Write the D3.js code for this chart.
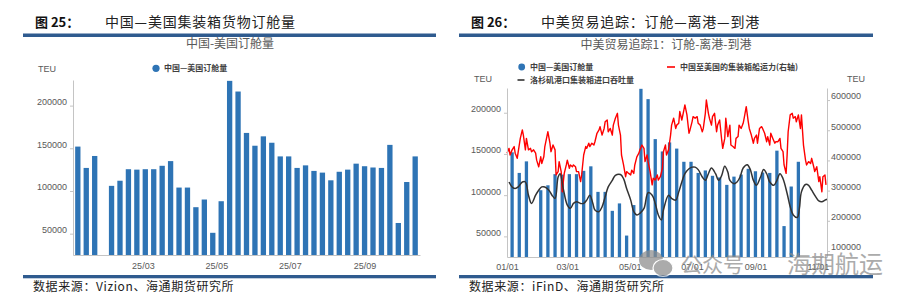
<!DOCTYPE html>
<html>
<head>
<meta charset="utf-8">
<script src="https://cdn.jsdelivr.net/npm/d3@7"></script>
<style>
body { margin: 0; background: #fff; }
svg { display: block; }
</style>
</head>
<body>
<div id="chart"></div>
<script>
// weekly China -> US bookings (TEU), week start dates
var weeks = ["2025-01-06","2025-01-13","2025-01-20","2025-01-27","2025-02-03","2025-02-10","2025-02-17","2025-02-24",
  "2025-03-03","2025-03-10","2025-03-17","2025-03-24","2025-03-31","2025-04-07","2025-04-14","2025-04-21","2025-04-28",
  "2025-05-05","2025-05-12","2025-05-19","2025-05-26","2025-06-02","2025-06-09","2025-06-16","2025-06-23","2025-06-30",
  "2025-07-07","2025-07-14","2025-07-21","2025-07-28","2025-08-04","2025-08-11","2025-08-18","2025-08-25",
  "2025-09-01","2025-09-08","2025-09-15","2025-09-22","2025-09-29","2025-10-06","2025-10-13"];
var bookings = [152000,127000,141000,null,106000,112000,125500,125000,125500,125500,129500,135000,104000,104000,
  81000,90000,51000,88000,229000,216500,168000,153000,164000,156500,140500,140500,127000,130000,123500,121500,
  112500,122500,125000,132000,129000,127500,127000,154000,62500,110500,140500];

// China -> US container ship capacity (right axis), 2025
var capDates = ["01-01","01-03","01-04","01-06","01-08","01-09","01-11","01-12","01-14","01-16","01-17","01-19","01-20",
  "01-22","01-24","01-25","01-27","01-29","01-30","02-01","02-03","02-04","02-06","02-07","02-09","02-10","02-12","02-13",
  "02-15","02-17","02-18","02-20","02-21","02-23","02-24","02-26","02-28","03-01","03-03","03-04","03-06","03-07","03-09",
  "03-10","03-12","03-14","03-15","03-17","03-19","03-20","03-22","03-23","03-25","03-27","03-28","03-30","04-01","04-02",
  "04-04","04-06","04-07","04-09","04-10","04-12","04-14","04-15","04-17","04-19","04-20","04-22","04-23","04-25","04-27",
  "04-28","04-30","05-02","05-03","05-05","05-06","05-08","05-10","05-11","05-13","05-15","05-16","05-18","05-19","05-21",
  "05-23","05-24","05-26","05-28","05-29","05-31","06-02","06-03","06-05","06-06","06-08","06-10","06-11","06-13","06-15",
  "06-16","06-18","06-19","06-21","06-23","06-24","06-26","06-28","06-29","07-01","07-02","07-04","07-06","07-07","07-09",
  "07-11","07-12","07-14","07-15","07-17","07-18","07-20","07-21","07-23","07-25","07-26","07-28","07-30","07-31","08-02",
  "08-03","08-05","08-07","08-08","08-10","08-12","08-13","08-15","08-16","08-18","08-20","08-21","08-23","08-25","08-26",
  "08-28","08-30","08-31","09-02","09-03","09-05","09-07","09-08","09-10","09-12","09-13","09-15","09-16","09-18","09-20",
  "09-21","09-23","09-25","09-26","09-28","09-29","10-01","10-02","10-03","10-05","10-07","10-08","10-10","10-11","10-13",
  "10-15","10-16","10-18","10-20","10-21","10-23","10-25","10-26","10-28","10-29","10-31","11-02","11-03","11-05","11-06",
  "11-08","11-09"];
var capValues = [424000,440000,418000,435000,446000,424000,407000,429000,473000,501000,484000,435000,473000,
  435000,440000,429000,435000,424000,401000,379000,412000,390000,412000,446000,479000,495000,457000,429000,
  451000,435000,352000,363000,396000,363000,296000,357000,385000,401000,374000,385000,379000,385000,379000,
  363000,363000,330000,352000,418000,446000,440000,457000,446000,457000,451000,462000,490000,501000,512000,
  484000,506000,528000,534000,495000,506000,484000,517000,540000,556000,517000,484000,418000,385000,346000,
  363000,357000,352000,368000,357000,385000,412000,424000,435000,451000,440000,396000,418000,396000,363000,
  319000,341000,335000,352000,335000,346000,374000,429000,451000,418000,435000,484000,517000,540000,506000,
  517000,523000,562000,534000,567000,584000,551000,490000,501000,528000,545000,540000,545000,523000,517000,
  495000,506000,556000,600000,556000,540000,517000,545000,556000,495000,517000,534000,468000,440000,473000,
  540000,479000,517000,451000,446000,440000,473000,479000,517000,506000,523000,540000,578000,528000,506000,
  484000,457000,473000,484000,457000,506000,512000,506000,490000,462000,479000,451000,490000,473000,457000,
  462000,462000,473000,440000,429000,385000,357000,418000,495000,551000,556000,540000,545000,528000,551000,
  506000,551000,451000,401000,385000,396000,390000,407000,379000,363000,379000,330000,346000,296000,346000,
  352000,319000];

// Los Angeles port container imports (left axis), 2025
var laDates = ["01-03","01-06","01-09","01-12","01-16","01-19","01-22","01-25","01-29","02-01","02-04","02-07","02-11",
  "02-14","02-17","02-20","02-22","02-25","03-01","03-04","03-07","03-10","03-14","03-17","03-20","03-23","03-26","03-28",
  "04-01","04-04","04-07","04-10","04-14","04-17","04-22","04-25","04-28","05-02","05-05","05-08","05-11","05-15","05-19",
  "05-23","05-26","05-29","06-01","06-03","06-08","06-11","06-15","06-18","06-21","06-24","06-28","07-01","07-04","07-07",
  "07-11","07-14","07-17","07-20","07-24","07-27","07-30","08-02","08-05","08-07","08-11","08-14","08-17","08-20","08-24",
  "08-27","08-30","09-02","09-06","09-09","09-12","09-15","09-19","09-22","09-25","09-28","10-02","10-05","10-08","10-12",
  "10-14","10-16","10-20","10-23","10-26","10-30","11-02","11-05","11-08","11-10"];
var laValues = [116000,110000,108000,110000,116000,116000,100000,90000,100000,106000,110000,110000,106000,
  100000,96000,122000,126000,108000,88000,84000,90000,92000,90000,90000,94000,100000,90000,82000,
  80000,86000,98000,110000,118000,124000,125000,120000,108000,94000,80000,76000,78000,84000,103000,
  100000,90000,76000,70000,82000,100000,96000,94000,104000,116000,126000,132000,134000,134000,131000,
  122000,118000,126000,133000,126000,118000,124000,135000,128000,118000,114000,116000,122000,133000,137000,
  131000,118000,112000,122000,131000,126000,116000,112000,118000,126000,120000,102000,86000,76000,73000,
  84000,104000,113000,112000,106000,98000,93000,92000,94000,95000];

var leftTicks = [50000, 100000, 150000, 200000];
var rightTicks = [100000, 200000, 300000, 400000, 500000, 600000];
var leftMonths = ["2025-03-01", "2025-05-01", "2025-07-01", "2025-09-01"];
var rightMonths = ["2025-01-01", "2025-03-01", "2025-05-01", "2025-07-01", "2025-09-01", "2025-11-01"];

var parse = d3.timeParse("%Y-%m-%d");
var md = function(s) { return parse("2025-" + s); };

var blue = "#2e74b5", navy = "#2f5b8f", gray = "#595959", axisGray = "#c4c4c4";
var cjk = "'Noto Sans CJK SC', sans-serif";
var num = "'Liberation Sans', Arial, sans-serif";

var svg = d3.select("#chart").append("svg")
  .attr("width", 916).attr("height", 300);

var weekData = weeks.map(function(w, i) { return {date: parse(w), v: bookings[i]}; })
  .filter(function(d) { return d.v != null; });

function styleAxis(g) {
  g.select(".domain").attr("stroke", axisGray);
  g.selectAll(".tick line").attr("stroke", axisGray);
  g.selectAll(".tick text").attr("fill", gray).attr("font-size", 9).attr("font-family", num);
}

// ---------- headers / rules / footers ----------
function frame(x0, x1, fig, title, source) {
  svg.append("text").attr("x", x0 + 12).attr("y", 27)
    .attr("font-family", cjk).attr("font-size", 13).attr("font-weight", "bold").attr("fill", "#111")
    .text(fig);
  svg.append("text").attr("x", x0 + 82).attr("y", 27)
    .attr("font-family", cjk).attr("font-size", 14).attr("letter-spacing", 0.8).attr("fill", "#222")
    .text(title);
  svg.append("rect").attr("x", x0).attr("y", 33.5).attr("width", x1 - x0).attr("height", 3.5).attr("fill", navy);
  svg.append("rect").attr("x", x0).attr("y", 275).attr("width", x1 - x0).attr("height", 3.3).attr("fill", navy);
  svg.append("text").attr("x", x0 + 10).attr("y", 290.5)
    .attr("font-family", cjk).attr("font-size", 12).attr("letter-spacing", 0.6).attr("fill", "#222")
    .text(source);
}
frame(23, 436, "图 25：", "中国—美国集装箱货物订舱量", "数据来源：Vizion、海通期货研究所");
frame(459, 873, "图 26：", "中美贸易追踪：订舱—离港—到港", "数据来源：iFinD、海通期货研究所");

// ---------- left chart ----------
var xL = d3.scaleTime()
  .domain([d3.timeDay.offset(parse(weeks[0]), -4), d3.timeDay.offset(parse(weeks[weeks.length - 1]), 4)])
  .range([73, 420]);
var yL = d3.scaleLinear().domain([25000, 230000]).range([255, 80]);

svg.append("text").attr("x", 230).attr("y", 47.5).attr("text-anchor", "middle")
  .attr("font-family", cjk).attr("font-size", 12).attr("fill", gray).text("中国-美国订舱量");
svg.append("circle").attr("cx", 156).attr("cy", 68.3).attr("r", 3.6).attr("fill", blue);
svg.append("text").attr("x", 164).attr("y", 71.2)
  .attr("font-family", cjk).attr("font-size", 8).attr("font-weight", "bold").attr("fill", "#404040")
  .text("中国—美国订舱量");
svg.append("text").attr("x", 38).attr("y", 72)
  .attr("font-family", num).attr("font-size", 9).attr("fill", gray).text("TEU");

var bwL = (xL(parse(weeks[1])) - xL(parse(weeks[0]))) * 0.63;
svg.append("g").selectAll("rect").data(weekData).join("rect")
  .attr("x", function(d) { return xL(d.date) - bwL / 2; })
  .attr("y", function(d) { return yL(d.v); })
  .attr("width", bwL)
  .attr("height", function(d) { return yL.range()[0] - yL(d.v); })
  .attr("fill", blue);

svg.append("g").attr("transform", "translate(73,0)")
  .call(d3.axisLeft(yL).tickValues(leftTicks).tickFormat(d3.format("d")).tickSizeInner(3).tickSizeOuter(0).tickPadding(3))
  .call(styleAxis)
  .call(function(g) { g.selectAll(".tick text").attr("dy", "-0.12em"); });
svg.append("g").attr("transform", "translate(0,255)")
  .call(d3.axisBottom(xL).tickValues(leftMonths.map(parse)).tickFormat(d3.timeFormat("%y/%m")).tickSize(0).tickPadding(7.5))
  .call(styleAxis);

// ---------- right chart ----------
var xR = d3.scaleTime().domain([parse("2025-01-01"), parse("2025-11-10")]).range([507, 827]);
var yRL = d3.scaleLinear().domain([25000, 230000]).range([257, 88]);
var yRR = d3.scaleLinear().domain([80000, 640000]).range([257, 88]);

svg.append("text").attr("x", 666).attr("y", 48.5).attr("text-anchor", "middle")
  .attr("font-family", cjk).attr("font-size", 12).attr("fill", gray).text("中美贸易追踪1：订舱-离港-到港");

svg.append("circle").attr("cx", 521.7).attr("cy", 67).attr("r", 3.4).attr("fill", blue);
svg.append("text").attr("x", 530).attr("y", 70)
  .attr("font-family", cjk).attr("font-size", 8).attr("font-weight", "bold").attr("fill", "#404040")
  .text("中国—美国订舱量");
svg.append("line").attr("x1", 517.5).attr("x2", 524.5).attr("y1", 80).attr("y2", 80)
  .attr("stroke", "#333").attr("stroke-width", 1.6);
svg.append("text").attr("x", 530).attr("y", 83)
  .attr("font-family", cjk).attr("font-size", 8).attr("font-weight", "bold").attr("fill", "#404040")
  .text("洛杉矶港口集装箱进口吞吐量");
svg.append("line").attr("x1", 667).attr("x2", 675).attr("y1", 67).attr("y2", 67)
  .attr("stroke", "#ff0000").attr("stroke-width", 1.6);
svg.append("text").attr("x", 680).attr("y", 70)
  .attr("font-family", cjk).attr("font-size", 8).attr("font-weight", "bold").attr("fill", "#404040")
  .text("中国至美国的集装箱船运力(右轴)");
svg.append("text").attr("x", 474).attr("y", 81.5)
  .attr("font-family", num).attr("font-size", 9).attr("fill", gray).text("TEU");
svg.append("text").attr("x", 847).attr("y", 81.5)
  .attr("font-family", num).attr("font-size", 9).attr("fill", gray).text("TEU");

var bwR = (xR(parse(weeks[1])) - xR(parse(weeks[0]))) * 0.46;
svg.append("g").selectAll("rect").data(weekData).join("rect")
  .attr("x", function(d) { return xR(d.date) - bwR / 2; })
  .attr("y", function(d) { return yRL(d.v); })
  .attr("width", bwR)
  .attr("height", function(d) { return yRL.range()[0] - yRL(d.v); })
  .attr("fill", blue);

var capData = capDates.map(function(s, i) { return {date: md(s), v: capValues[i]}; });
var laData = laDates.map(function(s, i) { return {date: md(s), v: laValues[i]}; });

svg.append("path").datum(capData)
  .attr("fill", "none").attr("stroke", "#ff0000").attr("stroke-width", 1.4).attr("stroke-linejoin", "round")
  .attr("d", d3.line().x(function(d) { return xR(d.date); }).y(function(d) { return yRR(d.v); }));
svg.append("path").datum(laData)
  .attr("fill", "none").attr("stroke", "#333").attr("stroke-width", 1.5)
  .attr("d", d3.line().curve(d3.curveCatmullRom).x(function(d) { return xR(d.date); }).y(function(d) { return yRL(d.v); }));

svg.append("g").attr("transform", "translate(507,0)")
  .call(d3.axisLeft(yRL).tickValues(leftTicks).tickFormat(d3.format("d")).tickSizeInner(3).tickSizeOuter(0).tickPadding(3))
  .call(styleAxis)
  .call(function(g) { g.selectAll(".tick text").attr("dy", "-0.12em"); });
svg.append("g").attr("transform", "translate(827,0)")
  .call(d3.axisRight(yRR).tickValues(rightTicks).tickFormat(d3.format("d")).tickSizeInner(3).tickSizeOuter(0).tickPadding(1))
  .call(styleAxis)
  .call(function(g) { g.selectAll(".tick text").attr("dy", "-0.12em"); });
svg.append("g").attr("transform", "translate(0,257)")
  .call(d3.axisBottom(xR).tickValues(rightMonths.map(parse)).tickFormat(d3.timeFormat("%m/%d")).tickSize(0).tickPadding(6.5))
  .call(styleAxis);

// ---------- account watermark ----------
var wm = svg.append("g").attr("opacity", 0.72);
wm.append("ellipse").attr("cx", 651).attr("cy", 260).attr("rx", 12).attr("ry", 10).attr("fill", "#8c8c8c");
wm.append("ellipse").attr("cx", 663).attr("cy", 268).attr("rx", 10).attr("ry", 8.5).attr("fill", "#8c8c8c")
  .attr("stroke", "#fff").attr("stroke-width", 1.2);
wm.append("text").attr("x", 681).attr("y", 272)
  .attr("font-family", cjk).attr("font-size", 21).attr("fill", "#8c8c8c").text("公众号");
wm.append("text").attr("x", 787).attr("y", 273)
  .attr("font-family", cjk).attr("font-size", 24).attr("fill", "#8c8c8c").text("海期航运");
</script>
</body>
</html>
